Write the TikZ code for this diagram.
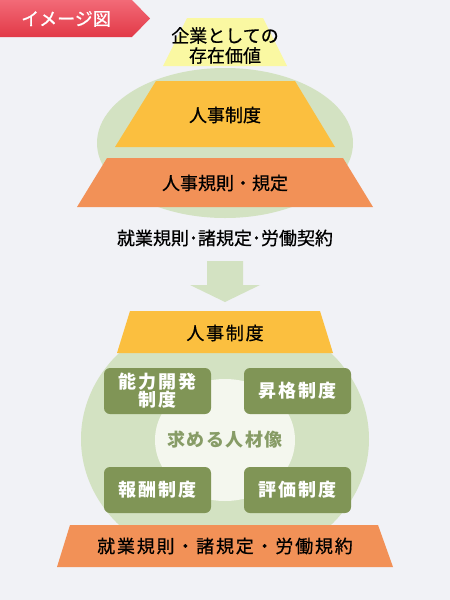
\documentclass[tikz,border=0pt]{standalone}
\usepackage{fontspec}
\setmainfont{Noto Sans CJK JP}
\definecolor{bgc}{HTML}{F1F2F6}
\definecolor{tagtop}{HTML}{F26A77}
\definecolor{tagbot}{HTML}{E23947}
\definecolor{paleyel}{HTML}{FAF8A2}
\definecolor{gold}{HTML}{FBBF3F}
\definecolor{orng}{HTML}{F29157}
\definecolor{lgreen}{HTML}{D3E2C2}
\definecolor{inner}{HTML}{F4F7EE}
\definecolor{boxgreen}{HTML}{809556}
\definecolor{txtgreen}{HTML}{879C66}
\tikzset{
  jp/.style={inner sep=0pt, font=\fontsize{18}{20}\selectfont\addfontfeature{FakeBold=0.6}, text=black, align=center},
  jpsp/.style={inner sep=0pt, font=\fontsize{18}{20}\selectfont\addfontfeature{LetterSpace=10,FakeBold=0.6}, text=black, align=center},
  boxtxt/.style={inner sep=0pt, font=\fontsize{18}{18}\selectfont\bfseries\addfontfeature{LetterSpace=10}, text=white, align=center},
  tagtxt/.style={inner sep=0pt, font=\fontsize{18}{20}\selectfont\addfontfeature{FakeBold=1}, text=white},
  gbox/.style={fill=boxgreen, rounded corners=6pt}
}
\begin{document}
\begin{tikzpicture}[x=1pt,y=-1pt]
\fill[bgc] (0,0) rectangle (450,600);
\useasboundingbox (0,0) rectangle (450,600);
% tag
\shade[top color=tagtop,bottom color=tagbot] (0,0) -- (132,0) -- (150,18.5) -- (132,37) -- (0,37) -- cycle;
\node[tagtxt] (tag) at (66,19) {イメージ図};
% top part
\fill[paleyel] (187,18) -- (263,18) -- (287,66) -- (163,66) -- cycle;
\fill[lgreen] (225,143) ellipse [x radius=128pt, y radius=75pt];
\node[jp] (value) at (225,45.5) {企業としての\\存在価値};
\fill[gold] (156,81) -- (295,81) -- (335,147) -- (115,147) -- cycle;
\node[jp] (hr1) at (225,115) {人事制度};
\fill[orng] (107,158) -- (343,158) -- (373,207) -- (77,207) -- cycle;
\node[jp] (rule1) at (225,183) {人事規則・規定};
\node[jp] (mid) at (225,238) {就業規則･諸規定･労働契約};
% arrow
\fill[lgreen] (207,261) -- (243,261) -- (243,285) -- (260,285) -- (225,302) -- (190,285) -- (207,285) -- cycle;
% bottom part
\fill[lgreen] (225,439) ellipse [x radius=144pt, y radius=127pt];
\fill[inner] (225,440) ellipse [x radius=70pt, y radius=61pt];
\node[inner sep=0pt, font=\fontsize{18}{20}\selectfont\bfseries\addfontfeature{LetterSpace=8}, text=txtgreen] (ideal) at (225,440) {求める人材像};
\fill[gold] (130,311) -- (320,311) -- (333,353) -- (117,353) -- cycle;
\node[jpsp] (hr2) at (225,333) {人事制度};
\fill[gbox] (104,368) rectangle (211,414);
\node[boxtxt] (dev) at (157.5,391) {能力開発\\制度};
\fill[gbox] (244,368) rectangle (351,414);
\node[boxtxt] (promo) at (297.5,391) {昇格制度};
\fill[gbox] (104,467) rectangle (211,513);
\node[boxtxt] (pay) at (157.5,490) {報酬制度};
\fill[gbox] (244,467) rectangle (351,513);
\node[boxtxt] (eval) at (297.5,490) {評価制度};
\fill[orng] (70,525) -- (378,525) -- (393,567) -- (57,567) -- cycle;
\node[jpsp] (rule2) at (225,546) {就業規則・諸規定・労働規約};
\end{tikzpicture}
\end{document}
